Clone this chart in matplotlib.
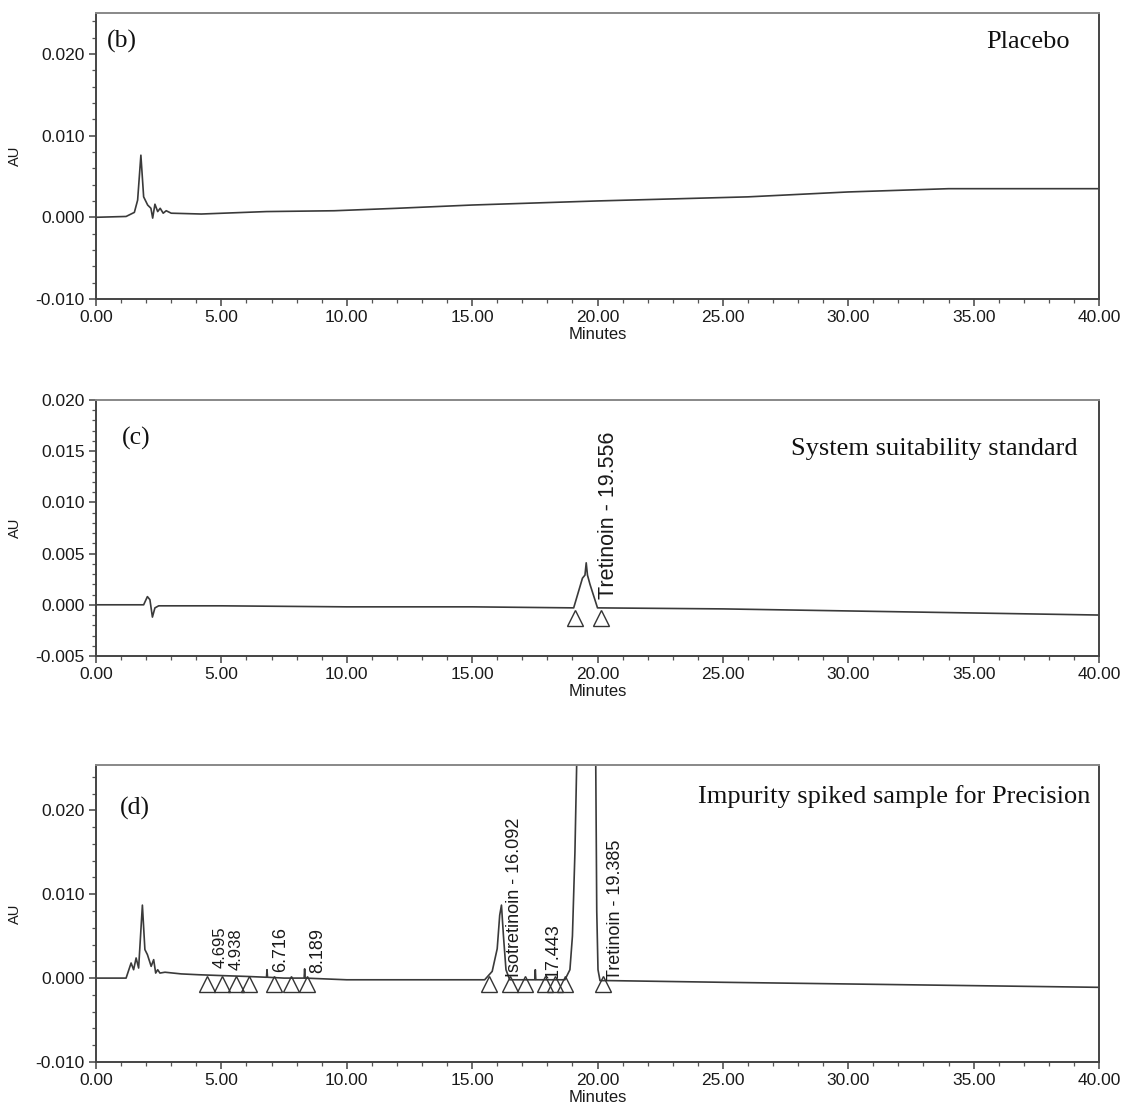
import matplotlib
matplotlib.use("Agg")
import matplotlib.pyplot as plt
from matplotlib.ticker import MultipleLocator, FormatStrFormatter

# ---------------- data ----------------
b_time = [0, 1.2, 1.53, 1.66, 1.79, 1.9, 2.06, 2.19, 2.26, 2.35, 2.46, 2.56, 2.68, 2.8, 3.0,
          4.2, 6.8, 9.5, 12.0, 15.0, 20.0, 26.0, 30.0, 34.0, 40.0]
b_au = [0.0, 0.0001, 0.0006, 0.0021, 0.0076, 0.0025, 0.0015, 0.0011, -0.0001, 0.0016, 0.0007,
        0.0011, 0.0005, 0.0008, 0.0005, 0.0004, 0.0007, 0.0008, 0.0011, 0.0015, 0.0020, 0.0025,
        0.0031, 0.0035, 0.0035]

c_time = [0, 1.9, 2.05, 2.15, 2.25, 2.35, 2.5, 5, 10, 15, 19.05, 19.4, 19.5, 19.55, 19.6, 19.7,
          20.0, 25, 30, 35, 40]
c_au = [0.0, 0.0, 0.0008, 0.0005, -0.0012, -0.0003, -0.0001, -0.0001, -0.0002, -0.0002, -0.0003,
        0.0026, 0.0029, 0.0041, 0.0029, 0.0020, -0.0003, -0.0004, -0.0006, -0.0008, -0.0010]

d_time = [0, 1.2, 1.4, 1.5, 1.6, 1.7, 1.85, 1.95, 2.05, 2.2, 2.3, 2.38, 2.46, 2.55, 2.75, 3.4,
          4.1, 5.0, 6.0, 6.8, 6.82, 6.84, 7.5, 8.3, 8.32, 8.34, 10, 15.5, 15.8, 16.0, 16.1, 16.17,
          16.25, 16.35, 16.5, 17.5, 17.52, 17.54, 18.7, 18.9, 19.0, 19.1, 19.2, 19.5, 19.92,
          19.97, 20.02, 20.1, 20.5, 25, 30, 35, 40]
d_au = [0.0, 0.0, 0.0018, 0.0010, 0.0024, 0.0012, 0.0087, 0.0034, 0.0028, 0.0014, 0.0022, 0.0006,
        0.0010, 0.0006, 0.0007, 0.0005, 0.0004, 0.0003, 0.0002, 0.0001, 0.0010, 0.0001, 0.0000,
        0.0000, 0.0011, 0.0000, -0.0002, -0.0002, 0.0008, 0.0035, 0.0075, 0.0087, 0.0050, 0.0010,
        -0.0002, -0.0002, 0.0010, -0.0002, -0.0002, 0.0010, 0.0050, 0.0150, 0.0300, 0.0600,
        0.0300, 0.0080, 0.0010, -0.0003, -0.0003, -0.0005, -0.0007, -0.0009, -0.0011]

c_tri_t = [19.1, 20.15]
c_tri_y = -0.0013
d_tri_t = [4.42, 5.02, 5.58, 6.1, 7.09, 7.77, 8.41, 15.66, 16.53, 17.09, 17.89, 18.29, 18.69, 20.2]
d_tri_y = -0.0007

c_labels = ["Tretinoin - 19.556"]
c_label_t = [20.45]
c_label_y = [0.0006]

d_labels = ["4.695", "4.938", "6.716", "8.189", "Isotretinoin - 16.092", "17.443",
            "Tretinoin - 19.385"]
d_label_t = [4.95, 5.6, 7.35, 8.85, 16.7, 18.25, 20.7]
d_label_y = [0.0012, 0.0010, 0.0007, 0.0006, 0.0001, 0.0, -0.0002]
d_label_size = [12, 12, 13, 13, 13, 13, 13]

panel_tags = ["(b)", "(c)", "(d)"]
panel_titles = ["Placebo", "System suitability standard", "Impurity spiked sample for Precision"]

# ---------------- figure ----------------
W, H = 1128, 1111
fig = plt.figure(figsize=(W / 100, H / 100), dpi=100)

left = 96 / W
width = (1099 - 96) / W


def rect(top, bottom):
    return [left, 1 - bottom / H, width, (bottom - top) / H]


ax_b = fig.add_axes(rect(13, 299))
ax_c = fig.add_axes(rect(400, 656))
ax_d = fig.add_axes(rect(765, 1062))

line_col = "#3a3a3a"
sans = "Liberation Sans"
serif = "Liberation Serif"


def style(ax, ylim, ymajor, yminor):
    ax.set_xlim(0, 40)
    ax.set_ylim(*ylim)
    ax.xaxis.set_major_locator(MultipleLocator(5))
    ax.xaxis.set_minor_locator(MultipleLocator(1))
    ax.yaxis.set_major_locator(MultipleLocator(ymajor))
    ax.yaxis.set_minor_locator(MultipleLocator(yminor))
    ax.xaxis.set_major_formatter(FormatStrFormatter("%.2f"))
    ax.yaxis.set_major_formatter(FormatStrFormatter("%.3f"))
    ax.tick_params(which="major", direction="out", length=5, width=1.1, color="#444",
                   labelsize=12.5, pad=3, labelcolor="#1a1a1a")
    ax.tick_params(which="minor", direction="out", length=3, width=0.9, color="#555")
    for lab in ax.get_xticklabels() + ax.get_yticklabels():
        lab.set_fontfamily(sans)
    for s in ["left", "bottom", "right"]:
        ax.spines[s].set_color("#444")
        ax.spines[s].set_linewidth(1.4)
    ax.spines["top"].set_color("#888")
    ax.spines["top"].set_linewidth(1.4)
    ax.set_xlabel("Minutes", fontsize=12, family=sans, color="#1a1a1a", labelpad=1)
    ax.set_ylabel("AU", fontsize=10.5, family=sans, color="#1a1a1a")
    ax.yaxis.set_label_coords(-0.074, 0.5)


style(ax_b, (-0.010, 0.025), 0.010, 0.002)
style(ax_c, (-0.005, 0.020), 0.005, 0.001)
style(ax_d, (-0.010, 0.0254), 0.010, 0.002)

ax_b.plot(b_time, b_au, color=line_col, lw=1.2)
ax_c.plot(c_time, c_au, color=line_col, lw=1.2)
ax_d.plot(d_time, d_au, color=line_col, lw=1.2)

ax_c.plot(c_tri_t, [c_tri_y] * len(c_tri_t), linestyle="none", marker="^", ms=11,
          mfc="none", mec="#333", mew=1.0)
ax_d.plot(d_tri_t, [d_tri_y] * len(d_tri_t), linestyle="none", marker="^", ms=11,
          mfc="none", mec="#333", mew=1.0)

for t, y, s in zip(c_label_t, c_label_y, c_labels):
    ax_c.text(t, y, s, rotation=90, ha="center", va="bottom", fontsize=15.5, family=sans,
              color="#1a1a1a")
for t, y, s, fs in zip(d_label_t, d_label_y, d_labels, d_label_size):
    ax_d.text(t, y, s, rotation=90, ha="center", va="bottom", fontsize=fs, family=sans,
              color="#1a1a1a")

tag_pos = [(0.011, 0.880), (0.026, 0.824), (0.024, 0.832)]
title_pos = [(0.971, 0.878), (0.979, 0.785), (0.991, 0.872)]
for ax, tag, tp, title, tt in zip([ax_b, ax_c, ax_d], panel_tags, tag_pos, panel_titles, title_pos):
    ax.text(tp[0], tp[1], tag, transform=ax.transAxes, ha="left", va="baseline",
            fontsize=18.5, family=serif, color="#111")
    ax.text(tt[0], tt[1], title, transform=ax.transAxes, ha="right", va="baseline",
            fontsize=19, family=serif, color="#111")

fig.savefig("out.png", dpi=100)
